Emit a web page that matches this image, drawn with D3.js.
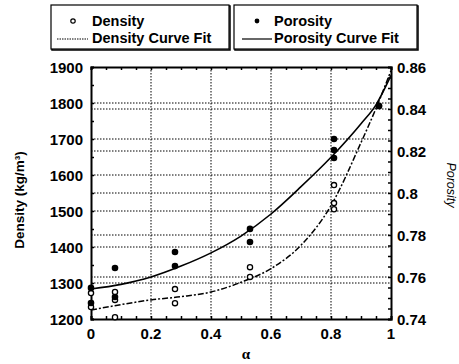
<!DOCTYPE html>
<html><head><meta charset="utf-8">
<script src="https://cdn.jsdelivr.net/npm/d3@7"></script>
<style>
body{margin:0;background:#fff;}
text{font-family:"Liberation Sans",Arial,sans-serif;fill:#000;}
</style></head>
<body><svg id="c" width="459" height="364"></svg>
<script>
// Data
const densityAlpha = [0, 0, 0.08, 0.08, 0.08, 0.28, 0.28, 0.53, 0.53, 0.81, 0.81, 0.81, 0.96];
const densityValues = [1272, 1233, 1275, 1253, 1205, 1283, 1244, 1344, 1317, 1572, 1522, 1505, 1792];
const porosityAlpha = [0, 0, 0.08, 0.08, 0.28, 0.28, 0.53, 0.53, 0.81, 0.81, 0.81, 0.96];
const porosityValues = [0.7548, 0.7476, 0.7643, 0.7505, 0.7719, 0.7652, 0.7829, 0.7767, 0.8257, 0.8205, 0.8167, 0.8414];
const densityFitAlpha = [0, 0.1, 0.2, 0.3, 0.4, 0.5, 0.6, 0.7, 0.8, 0.9, 0.95, 1.0];
const densityFitValues = [1225, 1240, 1253, 1262, 1275, 1302, 1340, 1405, 1515, 1690, 1785, 1890];
const porosityFitAlpha = [0, 0.1, 0.2, 0.3, 0.4, 0.5, 0.6, 0.7, 0.8, 0.9, 0.95, 1.0];
const porosityFitValues = [0.7543, 0.7565, 0.7600, 0.7652, 0.7715, 0.7795, 0.7900, 0.8030, 0.8170, 0.8330, 0.8420, 0.8560];
const xTicks = [0, 0.2, 0.4, 0.6, 0.8, 1];
const xTickLabels = ["0", "0.2", "0.4", "0.6", "0.8", "1"];
const leftTicks = [1200, 1300, 1400, 1500, 1600, 1700, 1800, 1900];
const rightTicks = [0.74, 0.76, 0.78, 0.8, 0.82, 0.84, 0.86];
const rightTickLabels = ["0.74", "0.76", "0.78", "0.8", "0.82", "0.84", "0.86"];

const svg = d3.select("#c");
const L = 91, R = 391, T = 67, B = 319;
const x = d3.scaleLinear().domain([0, 1]).range([L, R]);
const yL = d3.scaleLinear().domain([1200, 1900]).range([B, T]);
const yR = d3.scaleLinear().domain([0.74, 0.86]).range([B, T]);

// grid
const grid = svg.append("g").attr("stroke", "#000").attr("stroke-width", 1).attr("stroke-dasharray", "1.5,1.5");
xTicks.slice(1, -1).forEach(v => grid.append("line").attr("x1", x(v)).attr("x2", x(v)).attr("y1", T).attr("y2", B));
leftTicks.slice(1, -1).forEach(v => grid.append("line").attr("x1", L).attr("x2", R).attr("y1", yL(v)).attr("y2", yL(v)));
rightTicks.slice(1, -1).forEach(v => grid.append("line").attr("x1", L).attr("x2", R).attr("y1", yR(v)).attr("y2", yR(v)));

// axes (ticks inward)
const fmt = () => "";
const axB = svg.append("g").attr("transform", `translate(0,${B})`)
  .call(d3.axisTop(x).tickValues(d3.range(0, 1.0001, 0.05)).tickSize(3).tickFormat(fmt));
const axT = svg.append("g").attr("transform", `translate(0,${T})`)
  .call(d3.axisBottom(x).tickValues(d3.range(0, 1.0001, 0.05)).tickSize(3).tickFormat(fmt));
const axL = svg.append("g").attr("transform", `translate(${L},0)`)
  .call(d3.axisRight(yL).tickValues(d3.range(1200, 1901, 50)).tickSize(3).tickFormat(fmt));
const axR = svg.append("g").attr("transform", `translate(${R},0)`)
  .call(d3.axisLeft(yR).tickValues(d3.range(0.74, 0.8601, 0.005)).tickSize(3).tickFormat(fmt));
[axB, axT, axL, axR].forEach(a => { a.selectAll("path").attr("stroke-width", 2); a.selectAll("line").attr("stroke-width", 1.5); });

// tick labels
svg.append("g").selectAll("text").data(xTicks).join("text")
  .attr("x", d => x(d)).attr("y", 339).attr("text-anchor", "middle")
  .attr("font-size", 15).attr("font-weight", "bold").text((d, i) => xTickLabels[i]);
svg.append("g").selectAll("text").data(leftTicks).join("text")
  .attr("x", 83).attr("y", d => yL(d) + 5.5).attr("text-anchor", "end")
  .attr("font-size", 15).attr("font-weight", "bold").text(d => d);
svg.append("g").selectAll("text").data(rightTicks).join("text")
  .attr("x", 397).attr("y", d => yR(d) + 5.5).attr("text-anchor", "start")
  .attr("font-size", 15).attr("font-weight", "bold").text((d, i) => rightTickLabels[i]);

// axis titles
svg.append("text").attr("transform", "translate(24,200) rotate(-90)").attr("text-anchor", "middle")
  .attr("font-size", 13.5).attr("font-weight", "bold").text("Density (kg/m³)");
svg.append("text").attr("transform", "translate(447,185) rotate(90)").attr("text-anchor", "middle")
  .attr("font-size", 12.5).attr("font-style", "italic").text("Porosity");
svg.append("text").attr("x", 246).attr("y", 359).attr("text-anchor", "middle")
  .attr("font-size", 15).attr("font-weight", "bold").style("font-family", "Liberation Serif, serif").text("α");

// fit curves
const lineD = d3.line().x((d, i) => x(densityFitAlpha[i])).y(d => yL(d)).curve(d3.curveMonotoneX);
const lineP = d3.line().x((d, i) => x(porosityFitAlpha[i])).y(d => yR(d)).curve(d3.curveMonotoneX);
svg.append("path").attr("d", lineD(densityFitValues)).attr("fill", "none").attr("stroke", "#000")
  .attr("stroke-width", 1.5).attr("stroke-dasharray", "6,2,2,2");
svg.append("path").attr("d", lineP(porosityFitValues)).attr("fill", "none").attr("stroke", "#000").attr("stroke-width", 1.6);

// points
svg.append("g").selectAll("circle").data(densityValues).join("circle")
  .attr("cx", (d, i) => x(densityAlpha[i])).attr("cy", d => yL(d)).attr("r", 2.6)
  .attr("fill", "#fff").attr("stroke", "#000").attr("stroke-width", 1.3);
svg.append("g").selectAll("circle").data(porosityValues).join("circle")
  .attr("cx", (d, i) => x(porosityAlpha[i])).attr("cy", d => yR(d)).attr("r", 3.3).attr("fill", "#000");

// legend
function box(x0, y0, w, h) {
  svg.append("rect").attr("x", x0 + 1).attr("y", y0 + 1).attr("width", w).attr("height", h).attr("fill", "none").attr("stroke", "#000").attr("stroke-width", 1.5);
  svg.append("rect").attr("x", x0).attr("y", y0).attr("width", w).attr("height", h).attr("fill", "#fff").attr("stroke", "#000").attr("stroke-width", 1.2);
}
box(51, 5, 178, 44);
box(234, 5, 183, 44);
svg.append("circle").attr("cx", 73).attr("cy", 21).attr("r", 2.2).attr("fill", "#fff").attr("stroke", "#000").attr("stroke-width", 1.2);
svg.append("text").attr("x", 92).attr("y", 26).attr("font-size", 14.5).attr("font-weight", "bold").text("Density");
svg.append("line").attr("x1", 57).attr("x2", 88).attr("y1", 39).attr("y2", 39).attr("stroke", "#000").attr("stroke-dasharray", "1.5,1");
svg.append("text").attr("x", 92).attr("y", 43).attr("font-size", 14.5).attr("font-weight", "bold").text("Density Curve Fit");
svg.append("circle").attr("cx", 257).attr("cy", 21).attr("r", 2.4).attr("fill", "#000");
svg.append("text").attr("x", 274).attr("y", 26).attr("font-size", 14.5).attr("font-weight", "bold").text("Porosity");
svg.append("line").attr("x1", 242).attr("x2", 272).attr("y1", 39).attr("y2", 39).attr("stroke", "#000").attr("stroke-width", 1.2);
svg.append("text").attr("x", 274).attr("y", 43).attr("font-size", 14.5).attr("font-weight", "bold").text("Porosity Curve Fit");
</script></body></html>
